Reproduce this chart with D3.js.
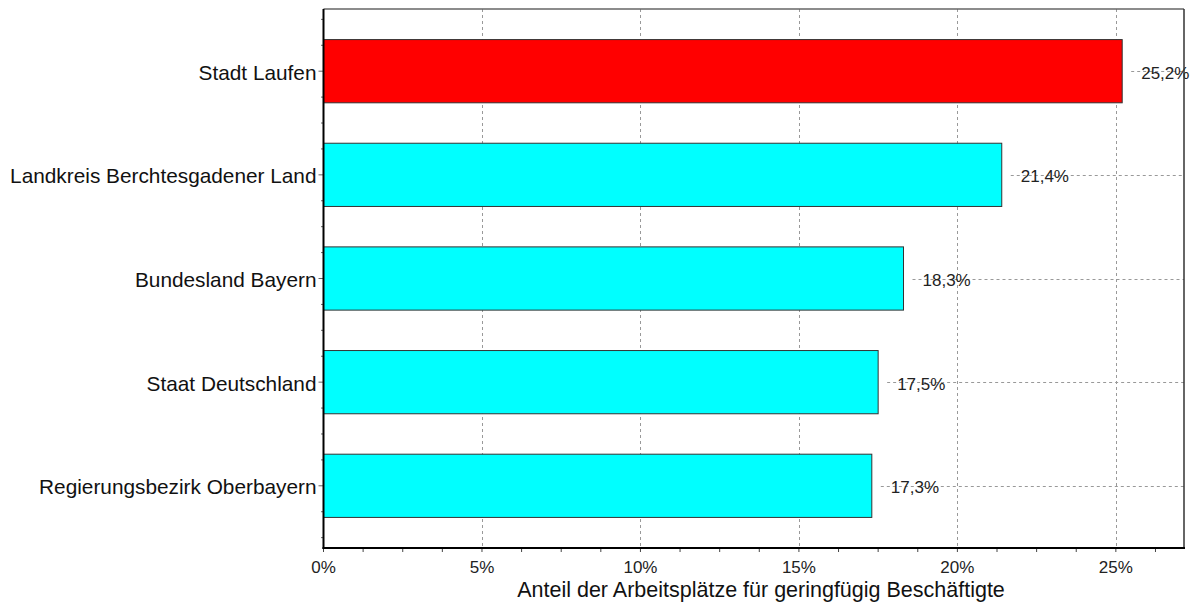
<!DOCTYPE html>
<html><head><meta charset="utf-8">
<script src="https://cdn.jsdelivr.net/npm/d3@7"></script>
<style>
body{margin:0;background:#fff;}
text{font-family:"Liberation Sans",Arial,sans-serif;}
</style></head>
<body><svg id="c" width="1199" height="602"></svg>
<script>
const categories = ["Stadt Laufen","Landkreis Berchtesgadener Land","Bundesland Bayern","Staat Deutschland","Regierungsbezirk Oberbayern"];
const values = [25.2, 21.4, 18.3, 17.5, 17.3];
const valueLabels = ["25,2%","21,4%","18,3%","17,5%","17,3%"];
const colors = ["#ff0000","#00ffff","#00ffff","#00ffff","#00ffff"];
const xTicks = [0,5,10,15,20,25];
const xTickLabels = ["0%","5%","10%","15%","20%","25%"];
const axisTitle = "Anteil der Arbeitsplätze für geringfügig Beschäftigte";

const svg = d3.select("#c");
const L=323.5, R=1184, T=9, B=548;
const x = d3.scaleLinear().domain([0,27.15]).range([L,R]);
const y = d3.scaleLinear().domain([-0.6,4.6]).range([T,B]);
const barH = y(0.61)-y(0);

// vertical gridlines
svg.append("g").selectAll("line").data(xTicks.filter(d=>d>0)).join("line")
  .attr("x1",d=>Math.round(x(d))+0.5).attr("x2",d=>Math.round(x(d))+0.5).attr("y1",T).attr("y2",B)
  .attr("stroke","#999").attr("stroke-dasharray","3,3").attr("stroke-width",1);

// horizontal gridlines from after bar end
svg.append("g").selectAll("line").data(values).join("line")
  .attr("x1",d=>x(d)+9).attr("x2",R).attr("y1",(d,i)=>Math.round(y(i))+0.5).attr("y2",(d,i)=>Math.round(y(i))+0.5)
  .attr("stroke","#999").attr("stroke-dasharray","3,3").attr("stroke-width",1);

// bars
svg.append("g").selectAll("rect").data(values).join("rect")
  .attr("x",x(0)).attr("y",(d,i)=>y(i)-barH/2)
  .attr("width",d=>x(d)-x(0)).attr("height",barH)
  .attr("fill",(d,i)=>colors[i]).attr("stroke","#333").attr("stroke-width",1);

// value labels
svg.append("g").selectAll("text").data(valueLabels).join("text")
  .attr("x",(d,i)=>x(values[i])+19).attr("y",(d,i)=>y(i)+2)
  .attr("dominant-baseline","central").attr("font-size",17).attr("fill","#222")
  .text(d=>d);

// frame top/right
svg.append("line").attr("x1",L).attr("x2",R).attr("y1",T).attr("y2",T).attr("stroke","#666").attr("stroke-width",1.5);
svg.append("line").attr("x1",R).attr("x2",R).attr("y1",T).attr("y2",B).attr("stroke","#333").attr("stroke-width",1.5);

// x axis
const minorX = d3.range(0,27.1,1.25);
svg.append("g").selectAll("line").data(minorX).join("line")
  .attr("x1",d=>x(d)).attr("x2",d=>x(d)).attr("y1",B).attr("y2",B+4)
  .attr("stroke","#444").attr("stroke-width",1);
svg.append("g").selectAll("text").data(xTicks).join("text")
  .attr("x",d=>x(d)).attr("y",573).attr("text-anchor","middle").attr("font-size",17).attr("fill","#222")
  .text((d,i)=>xTickLabels[i]);
svg.append("text").attr("x",761).attr("y",597).attr("text-anchor","middle").attr("font-size",21.5).attr("fill","#111").text(axisTitle);

// y axis
const minorY = d3.range(-0.5,4.51,0.25);
svg.append("g").selectAll("line").data(minorY).join("line")
  .attr("x1",d=>Number.isInteger(d)?L-5:L-2.5).attr("x2",L).attr("y1",d=>y(d)).attr("y2",d=>y(d))
  .attr("stroke","#666").attr("stroke-width",1);
svg.append("g").selectAll("text").data(categories).join("text")
  .attr("x",L-7).attr("y",(d,i)=>y(i)+1).attr("text-anchor","end").attr("dominant-baseline","central")
  .attr("font-size",20.8).attr("fill","#111").text(d=>d);

svg.append("line").attr("x1",L).attr("x2",L).attr("y1",T).attr("y2",B+1).attr("stroke","#000").attr("stroke-width",2);
svg.append("line").attr("x1",L-1).attr("x2",R+1).attr("y1",B).attr("y2",B).attr("stroke","#000").attr("stroke-width",2);
</script></body></html>
